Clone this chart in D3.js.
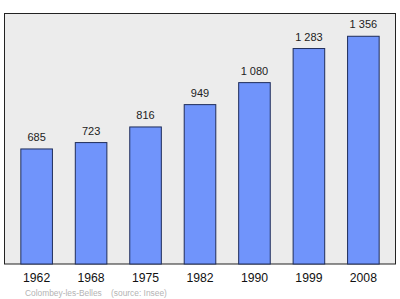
<!DOCTYPE html>
<html><head><meta charset="utf-8">
<script src="https://cdn.jsdelivr.net/npm/d3@7"></script>
<style>body{margin:0;background:#fff}svg{display:block}</style>
</head><body>
<script>
const years = ["1962","1968","1975","1982","1990","1999","2008"];
const population = [685,723,816,949,1080,1283,1356];
const valueLabels = ["685","723","816","949","1 080","1 283","1 356"];
const captionPlace = "Colombey-les-Belles";
const captionSource = "(source: Insee)";

const W = 400, H = 299;
const frame = {left: 4.5, top: 13.5, right: 395.5, bottom: 264};
const font = "Liberation Sans, Arial, sans-serif";
const svg = d3.select("body").append("svg").attr("width", W).attr("height", H);

svg.append("rect")
  .attr("x", frame.left).attr("y", frame.top)
  .attr("width", frame.right - frame.left).attr("height", frame.bottom - frame.top)
  .attr("fill", "#ececec").attr("stroke", "#222").attr("stroke-width", 1);

const x = d3.scaleBand().domain(years).range([frame.left, frame.right]).paddingInner(0.42).paddingOuter(0.3);
const y = d3.scaleLinear().domain([0, d3.max(population) * 1.1]).range([frame.bottom, frame.top]);

svg.selectAll("rect.bar").data(population).join("rect")
  .attr("class", "bar")
  .attr("x", (d, i) => x(years[i]))
  .attr("y", d => y(d))
  .attr("width", x.bandwidth())
  .attr("height", d => frame.bottom - y(d))
  .attr("fill", "#7094fb").attr("stroke", "#1f2d5a").attr("stroke-width", 1);

svg.selectAll("text.val").data(population).join("text")
  .attr("class", "val")
  .attr("x", (d, i) => x(years[i]) + x.bandwidth() / 2)
  .attr("y", d => y(d) - 8)
  .attr("text-anchor", "middle")
  .attr("font-family", font)
  .attr("font-size", 11).attr("fill", "#222")
  .text((d, i) => valueLabels[i]);

const axis = d3.axisBottom(x).tickSize(0).tickPadding(9);
const g = svg.append("g").attr("transform", `translate(0,${frame.bottom})`).call(axis);
g.select(".domain").remove();
g.selectAll("text").attr("font-family", font).attr("font-size", 12.2).attr("fill", "#111");

svg.append("text")
  .attr("x", 25).attr("y", 295.5)
  .attr("font-family", font)
  .attr("font-size", 8.4).attr("fill", "#b4b4b4")
  .text(captionPlace);
svg.append("text")
  .attr("x", 111).attr("y", 295.5)
  .attr("font-family", font)
  .attr("font-size", 8.4).attr("fill", "#b4b4b4")
  .text(captionSource);
</script>
</body></html>
